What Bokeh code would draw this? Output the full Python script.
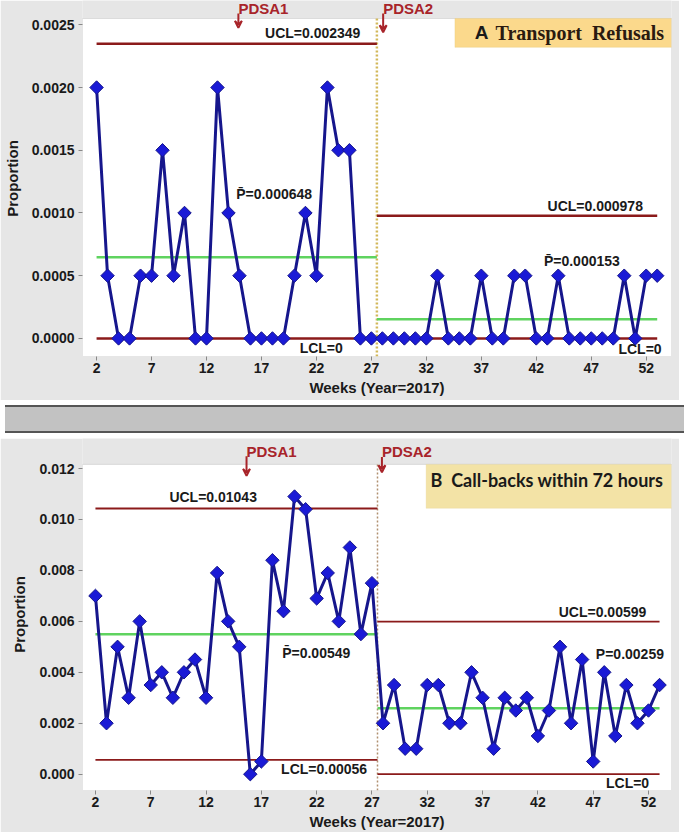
import numpy as np
from bokeh.plotting import figure
from bokeh.models import (FixedTicker, PrintfTickFormatter, Label, Arrow,
                          VeeHead, BoxAnnotation, Div)
from bokeh.layouts import column
from bokeh.embed import file_html
from bokeh.resources import INLINE

# ---------------- data ----------------
weeks = list(range(2, 54))
x_ticks = [2, 7, 12, 17, 22, 27, 32, 37, 42, 47, 52]
stage1_last_week = 27
stage2_first_week = 28

# A: Transport refusals (weeks 2-27, then 28-53)
refusals = [0.002, 0.0005, 0, 0, 0.0005, 0.0005, 0.0015, 0.0005, 0.001, 0, 0,
            0.002, 0.001, 0.0005, 0, 0, 0, 0, 0.0005, 0.001, 0.0005, 0.002,
            0.0015, 0.0015, 0, 0,
            0, 0, 0, 0, 0, 0.0005, 0, 0, 0, 0.0005, 0, 0, 0.0005, 0.0005, 0, 0,
            0.0005, 0, 0, 0, 0, 0, 0.0005, 0, 0.0005, 0.0005]
a_ucl = [0.002349, 0.000978]
a_cl = [0.000648, 0.000153]
a_lcl = [0, 0]
a_y_ticks = [0, 0.0005, 0.001, 0.0015, 0.002, 0.0025]

# B: Call-backs within 72 hours
callbacks = [0.007, 0.002, 0.005, 0.003, 0.006, 0.0035, 0.004, 0.003, 0.004,
             0.0045, 0.003, 0.0079, 0.006, 0.005, 0.0, 0.0005, 0.0084, 0.0064,
             0.0109, 0.0104, 0.0069, 0.0079, 0.006, 0.0089, 0.0055, 0.0075,
             0.002, 0.0035, 0.001, 0.001, 0.0035, 0.0035, 0.002, 0.002, 0.004,
             0.003, 0.001, 0.003, 0.0025, 0.003, 0.0015, 0.0025, 0.005, 0.002,
             0.0045, 0.0005, 0.004, 0.0015, 0.0035, 0.002, 0.0025, 0.0035]
b_ucl = [0.01043, 0.00599]
b_cl = [0.00549, 0.00259]
b_lcl = [0.00056, 0]
b_y_ticks = [0, 0.002, 0.004, 0.006, 0.008, 0.010, 0.012]

pdsa_weeks_a = [14.9, 28.07]
pdsa_weeks_b = [15.66, 27.9]

# ---------------- styling ----------------
FONT = "Liberation Sans"
DARKRED = "#8b1a1a"
GREEN = "#5fd35f"
LINE_BLUE = "#16168c"
MARK_BLUE = "#1a1ad6"
PDSA_RED = "#a8242a"
BG = "#e6e6e6"
NBSP = "\u00a0"


def fmt(v):
    return f"{v:g}"


def base_fig(height, xr, yr, top_px, bottom_px, left_px, right_px,
             y_ticks, y_fmt):
    # frame starts at the very top so that the PDSA marks above the
    # plot box can be drawn; the white plot box is an underlay box.
    frame_h = height - bottom_px
    box_h = frame_h - top_px
    y_end = yr[1] + top_px * (yr[1] - yr[0]) / box_h
    p = figure(width=679, height=height, x_range=xr, y_range=(yr[0], y_end),
               output_backend="svg", toolbar_location=None,
               min_border_top=0, min_border_right=right_px,
               min_border_bottom=bottom_px, min_border_left=left_px,
               background_fill_color=BG, border_fill_color=BG)
    p.grid.visible = False
    p.outline_line_color = None
    p.add_layout(BoxAnnotation(left=xr[0], right=xr[1], bottom=yr[0],
                               top=yr[1], fill_color="white", fill_alpha=1.0,
                               line_color="#a8a8a8", line_width=1,
                               level="underlay"))
    p.xaxis.ticker = FixedTicker(ticks=x_ticks)
    p.yaxis.ticker = FixedTicker(ticks=y_ticks)
    p.yaxis.formatter = PrintfTickFormatter(format=y_fmt)
    for ax in (p.xaxis[0], p.yaxis[0]):
        ax.axis_line_color = None
        ax.major_tick_line_color = "#888888"
        ax.major_tick_in = 0
        ax.major_tick_out = 4
        ax.minor_tick_line_color = None
        ax.major_label_text_font = FONT
        ax.major_label_text_font_style = "bold"
        ax.major_label_text_font_size = "14px"
        ax.major_label_text_color = "#1a1a1a"
        ax.axis_label_text_font = FONT
        ax.axis_label_text_font_style = "bold"
        ax.axis_label_text_font_size = "15px"
        ax.axis_label_text_color = "#1a1a1a"
    p.xaxis.axis_label = "Weeks (Year=2017)"
    p.yaxis.axis_label = "Proportion"
    p.xaxis.major_label_standoff = 2
    p.xaxis.axis_label_standoff = 3
    p.yaxis.major_label_standoff = 4
    p.yaxis.axis_label_standoff = 8
    return p


def draw_chart(p, values, ucl, cl, lcl, lw, yr, vcolor, vwidth):
    brk = (stage1_last_week + stage2_first_week) / 2
    p.segment(x0=[brk], y0=[yr[0]], x1=[brk], y1=[yr[1]], line_color=vcolor,
              line_dash="2 2", line_width=vwidth)
    xs = [[weeks[0], brk], [brk, weeks[-1]]]
    for i in range(2):
        p.line(xs[i], [ucl[i], ucl[i]], line_color=DARKRED, line_width=lw)
        p.line(xs[i], [lcl[i], lcl[i]], line_color=DARKRED, line_width=lw)
        p.line(xs[i], [cl[i], cl[i]], line_color=GREEN, line_width=2.5)
    p.line(weeks, values, line_color=LINE_BLUE, line_width=3)
    p.scatter(weeks, values, marker="square", angle=np.pi / 4, size=9.5,
              fill_color=MARK_BLUE, line_color=LINE_BLUE, line_width=1)


def txt(p, x, y, text, align="left", size="14px", font=FONT, color="#1a1a1a"):
    p.add_layout(Label(x=x, y=y, text=text, text_align=align,
                       text_baseline="middle", text_font=font,
                       text_font_style="bold", text_font_size=size,
                       text_color=color))


def pdsa(p, x, name, y_text, y0, y1):
    txt(p, x, y_text, name, size="15px", color=PDSA_RED)
    p.add_layout(Arrow(end=VeeHead(size=7, line_color=PDSA_RED, line_width=2,
                                   fill_color=None),
                       x_start=x, y_start=y0, x_end=x, y_end=y1,
                       line_color=PDSA_RED, line_width=2))


# ---------------- chart A ----------------
a_xr = (0.72, 54.3)
a_yr = (-0.000144, 0.00255)
pa = base_fig(400, a_xr, a_yr, 18, 44, 80, 6, a_y_ticks, "%.4f")
draw_chart(pa, refusals, a_ucl, a_cl, a_lcl, 2.5, a_yr, "#d2b85a", 2.5)
pa.add_layout(BoxAnnotation(left=34.6, right=a_xr[1], bottom=0.00232,
                            top=a_yr[1], fill_color="#fbd98c", fill_alpha=1.0,
                            line_color="#e4c270", line_width=1))
txt(pa, 36.4, 0.002436, "A", size="19px")
txt(pa, 38.3, 0.002436, "Transport" + NBSP + NBSP + "Refusals", size="20px",
    font="Liberation Serif", color="#2a1a10")
txt(pa, 26.0, 0.002436, f"UCL={fmt(a_ucl[0])}", align="right")
txt(pa, 14.7, 0.001148, f"P\u0304={fmt(a_cl[0])}")
txt(pa, 24.4, -0.000074, f"LCL={fmt(a_lcl[0])}", align="right")
txt(pa, 51.7, 0.001054, f"UCL={fmt(a_ucl[1])}", align="right")
txt(pa, 49.6, 0.000615, f"P\u0304={fmt(a_cl[1])}", align="right")
txt(pa, 53.4, -0.000086, f"LCL={fmt(a_lcl[1])}", align="right")
pdsa(pa, pdsa_weeks_a[0], "PDSA1", 0.00263, 0.00259, 0.002475)
pdsa(pa, pdsa_weeks_a[1], "PDSA2", 0.00263, 0.00259, 0.00244)

# ---------------- separator ----------------
sep = Div(text="", width=679, height=28,
          styles={"background-color": "#c2c2c2",
                  "border-top": "2px solid #555555",
                  "border-bottom": "2px solid #555555",
                  "box-sizing": "border-box"})

# ---------------- chart B ----------------
b_xr = (0.83, 54.08)
b_yr = (-0.00064, 0.01216)
pb = base_fig(394, b_xr, b_yr, 26, 41, 70, 8, b_y_ticks, "%.3f")
draw_chart(pb, callbacks, b_ucl, b_cl, b_lcl, 1.8, b_yr, "#b09070", 1.5)
pb.add_layout(BoxAnnotation(left=31.9, right=b_xr[1], bottom=0.01044,
                            top=b_yr[1], fill_color="#f3e3a6", fill_alpha=1.0,
                            line_color="#e6d08a", line_width=1))
txt(pb, 32.3, 0.011555, "B" + NBSP + NBSP + "Call-backs within 72 hours",
    size="18px", font="Lato")
txt(pb, 16.6, 0.0109, f"UCL={fmt(b_ucl[0])}", align="right")
txt(pb, 18.88, 0.00476, f"P\u0304={fmt(b_cl[0])}")
txt(pb, 26.56, 0.00019, f"LCL={fmt(b_lcl[0])}", align="right")
txt(pb, 51.8, 0.00637, f"UCL={fmt(b_ucl[1])}", align="right")
txt(pb, 53.4, 0.00471, f"P={fmt(b_cl[1])}", align="right")
txt(pb, 52.06, -0.00036, f"LCL={fmt(b_lcl[1])}", align="right")
pdsa(pb, pdsa_weeks_b[0], "PDSA1", 0.01267, 0.01248, 0.01171)
pdsa(pb, pdsa_weeks_b[1], "PDSA2", 0.01267, 0.01245, 0.01185)

layout = column(pa, sep, pb, spacing=0)
open("out.html", "w").write(file_html(layout, INLINE))
